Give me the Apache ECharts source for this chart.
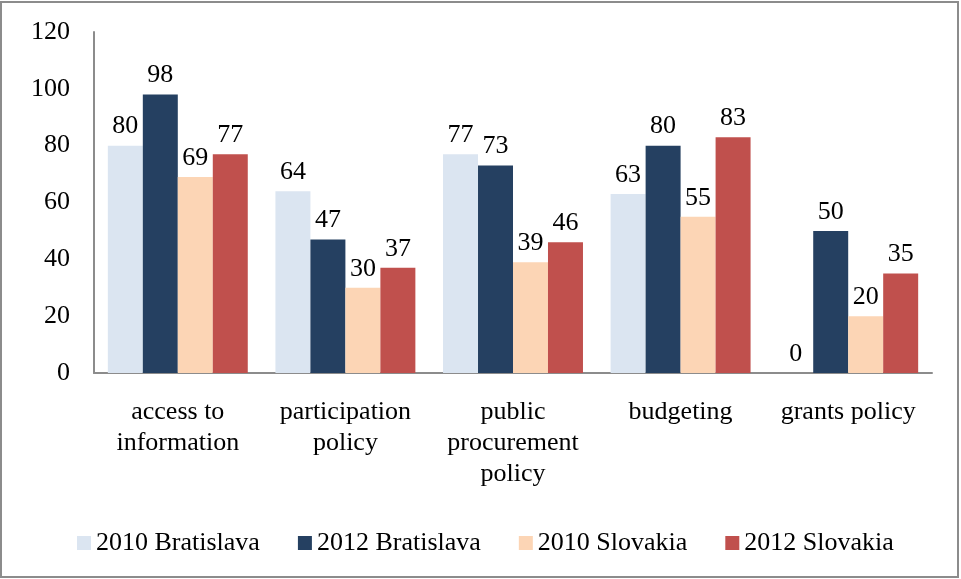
<!DOCTYPE html>
<html>
<head>
<meta charset="utf-8">
<script src="https://cdn.jsdelivr.net/npm/echarts@6/dist/echarts.min.js"></script>
<style>
html,body{margin:0;padding:0;background:#fff;}
#c{width:961px;height:579px;}
</style>
</head>
<body>
<div id="c"></div>
<script>
const categories = ['access to\ninformation', 'participation\npolicy', 'public\nprocurement\npolicy', 'budgeting', 'grants policy'];
const seriesNames = ['2010 Bratislava', '2012 Bratislava', '2010 Slovakia', '2012 Slovakia'];
const bratislava2010 = [80, 64, 77, 63, 0];
const bratislava2012 = [98, 47, 73, 80, 50];
const slovakia2010 = [69, 30, 39, 55, 20];
const slovakia2012 = [77, 37, 46, 83, 35];
const colors = ['#DBE5F1', '#254061', '#FCD5B5', '#C0504D'];
const yTicks = [0, 20, 40, 60, 80, 100, 120];

const font = "'Liberation Serif', 'Times New Roman', serif";
const fs = 26;
const dataSets = [bratislava2010, bratislava2012, slovakia2010, slovakia2012];

const chart = echarts.init(document.getElementById('c'));
chart.setOption({
  animation: false,
  textStyle: { fontFamily: font },
  graphic: [{
    type: 'rect',
    shape: { x: 1, y: 2, width: 957, height: 575 },
    style: { fill: 'none', stroke: '#8c8c8c', lineWidth: 2 },
    silent: true
  }],
  grid: { left: 94, right: 29, top: 32, bottom: 206, containLabel: false },
  legend: {
    left: 72,
    top: 525,
    itemWidth: 14,
    itemHeight: 14,
    itemGap: 38,
    icon: 'rect',
    textStyle: { fontFamily: font, fontSize: fs, color: '#000' },
    data: seriesNames
  },
  xAxis: {
    type: 'category',
    data: categories,
    axisLine: { lineStyle: { color: '#8c8c8c', width: 2 } },
    axisTick: { show: false },
    axisLabel: { fontFamily: font, fontSize: fs, color: '#000', lineHeight: 31, margin: 24, interval: 0 }
  },
  yAxis: {
    type: 'value',
    min: 0,
    max: 120,
    interval: 20,
    axisLine: { show: true, lineStyle: { color: '#8c8c8c', width: 2 } },
    axisTick: { show: false },
    splitLine: { show: false },
    axisLabel: { fontFamily: font, fontSize: fs, color: '#000', margin: 24, padding: [4, 0, 0, 0] }
  },
  series: dataSets.map((d, i) => ({
    name: seriesNames[i],
    type: 'bar',
    data: d,
    barGap: '0%',
    barCategoryGap: '16.5%',
    itemStyle: { color: colors[i] },
    label: { show: true, position: 'top', distance: 6, fontFamily: font, fontSize: fs, color: '#000' }
  }))
});
</script>
</body>
</html>
